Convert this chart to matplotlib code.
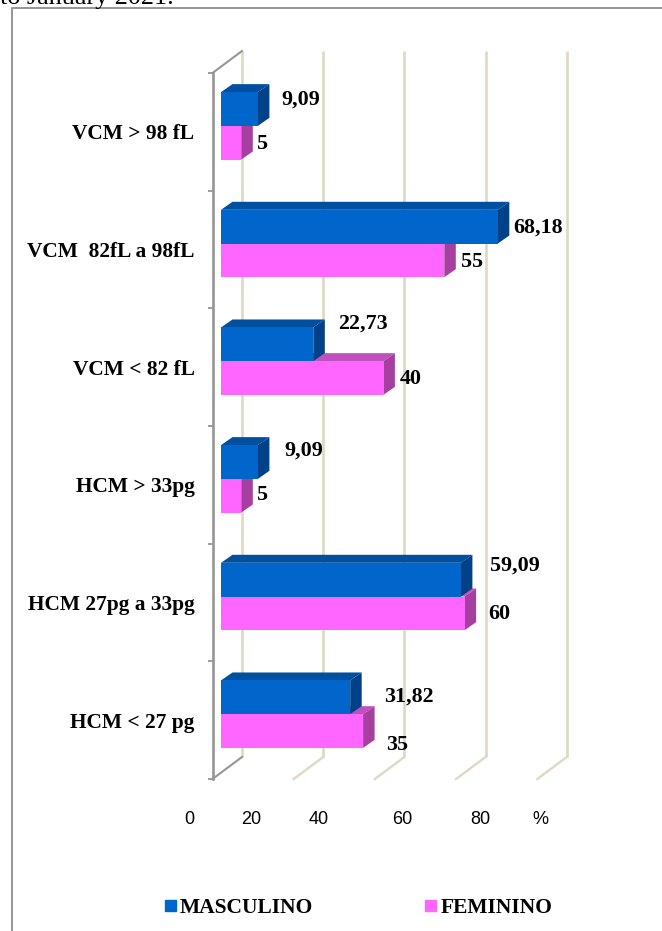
import matplotlib
matplotlib.use("Agg")
import matplotlib.pyplot as plt
from matplotlib.patches import Patch, Polygon

categories = ["VCM > 98 fL", "VCM  82fL a 98fL", "VCM < 82 fL",
              "HCM > 33pg", "HCM 27pg a 33pg", "HCM < 27 pg"]
masculino = [9.09, 68.18, 22.73, 9.09, 59.09, 31.82]
feminino = [5, 55, 40, 5, 60, 35]
grid_values = [0, 20, 40, 60, 80]
x_labels = ["0", "20", "40", "60", "80", "%"]

# posicoes em pixels medidas na imagem
W, H = 662, 931
x_label_px = [189, 251, 319, 402, 480, 540]
masc_label_px = [(301, 100), (538, 228), (363, 324), (304, 451), (515, 566), (409, 697)]
fem_label_px = [(263, 144), (472, 262), (411, 379), (263, 495), (499, 614), (397, 745)]

BLUE, BLUE_TOP, BLUE_SIDE = "#0066CC", "#00509F", "#004187"
PINK, PINK_TOP, PINK_SIDE = "#FF66FF", "#C050C0", "#A63FA0"
WALL = "#DDD9C3"
AXIS = "#969696"
SERIF = "Liberation Serif"
SANS = "Liberation Sans"

PX_UNIT = 4.06        # pixels por unidade do eixo x
ZERO_PX = 221.0       # pixel do valor 0 na frente das barras
TOP_PX, BOTTOM_PX = 73, 779
RIGHT_PX = 640
GROUP_PX = (BOTTOM_PX - TOP_PX) / len(categories)


def fx(px):
    return px / W


def fy(px):
    return 1 - px / H


fig = plt.figure(figsize=(W / 100, H / 100), dpi=100)
ax = fig.add_axes([fx(212.5), fy(BOTTOM_PX), fx(RIGHT_PX - 212.5), (BOTTOM_PX - TOP_PX) / H])
ax.set_xlim((212.5 - ZERO_PX) / PX_UNIT, (RIGHT_PX - ZERO_PX) / PX_UNIT)
ax.set_ylim(len(categories) - 0.5, -0.5)
ax.patch.set_visible(False)
for name in ["top", "right", "bottom"]:
    ax.spines[name].set_visible(False)
ax.spines["left"].set_color(AXIS)
ax.spines["left"].set_linewidth(1.9)

# eixo de categorias: marcas nos limites, nomes no centro dos grupos
ax.set_yticks([i - 0.5 for i in range(len(categories) + 1)])
ax.set_yticklabels([])
ax.set_yticks(range(len(categories)), categories, minor=True,
              family=SERIF, fontweight="bold", fontsize=15.4)
ax.tick_params(axis="y", which="major", length=3.5, width=1.3, color=AXIS)
ax.tick_params(axis="y", which="minor", length=0, pad=13)
ax.set_xticks([])

# profundidade 3D convertida para unidades dos eixos
bar_dx = 11.5 / PX_UNIT
bar_dy = 8 / GROUP_PX
wall_dx = 29.5 / PX_UNIT
wall_dy = 22 / GROUP_PX
zero_front = (212.5 - ZERO_PX) / PX_UNIT
floor_y = len(categories) - 0.5

# grade da parede do fundo
for v in grid_values:
    xf, xb = zero_front + v, zero_front + v + wall_dx
    ax.plot([xb, xb], [floor_y - wall_dy, -0.5 - wall_dy], color=WALL, lw=1.9,
            clip_on=False, zorder=1, solid_capstyle="butt")
    ax.plot([xf, xb], [floor_y, floor_y - wall_dy], color=AXIS if v == 0 else WALL,
            lw=1.5 if v == 0 else 1.7, clip_on=False, zorder=1)
ax.plot([zero_front, zero_front + wall_dx], [-0.5, -0.5 - wall_dy], color=AXIS, lw=1.5,
        clip_on=False, zorder=1)

bar_h = 33.7 / GROUP_PX
shift = -6.0 / GROUP_PX


def box(y, value, front, top, side, z):
    # face frontal, topo e lateral de uma barra
    t, b = y - bar_h / 2, y + bar_h / 2
    ax.barh(y, value, height=bar_h, color=front, edgecolor="none", zorder=z + 0.2)
    ax.add_patch(Polygon([(0, t), (bar_dx, t - bar_dy), (value + bar_dx, t - bar_dy), (value, t)],
                         color=top, lw=0, zorder=z))
    ax.add_patch(Polygon([(value, t), (value + bar_dx, t - bar_dy),
                          (value + bar_dx, b - bar_dy), (value, b)],
                         color=side, lw=0, zorder=z + 0.1))


for i in range(len(categories)):
    box(i + shift + bar_h / 2, feminino[i], PINK, PINK_TOP, PINK_SIDE, 2)
    box(i + shift - bar_h / 2, masculino[i], BLUE, BLUE_TOP, BLUE_SIDE, 3)

# rotulos de valores
for values, positions in [(masculino, masc_label_px), (feminino, fem_label_px)]:
    for v, (px, py) in zip(values, positions):
        fig.text(fx(px), fy(py), f"{v:g}".replace(".", ","), ha="center", va="center",
                 family=SERIF, fontweight="bold", fontsize=15.8, zorder=6)

for label, px in zip(x_labels, x_label_px):
    fig.text(fx(px), fy(819), label, ha="center", va="center", family=SANS, fontsize=13)

# moldura do grafico e resto da legenda do texto acima
fig.add_artist(plt.Line2D([fx(12), fx(12), 1], [0, fy(8), fy(8)], color=AXIS, lw=1.4))
fig.text(fx(0), fy(4), "to January 2021.", ha="left", va="baseline", family=SERIF, fontsize=18.8)

handles = [Patch(color=BLUE, label="MASCULINO"), Patch(color=PINK, label="FEMININO")]
fig.legend(handles=handles, ncols=2, frameon=False, loc="center left",
           bbox_to_anchor=(fx(165), fy(908)), borderaxespad=0, borderpad=0,
           handlelength=0.51, handleheight=0.45, handletextpad=0.19, columnspacing=5.2,
           prop={"family": SERIF, "weight": "bold", "size": 15.5})

fig.savefig("out.png", dpi=100)
